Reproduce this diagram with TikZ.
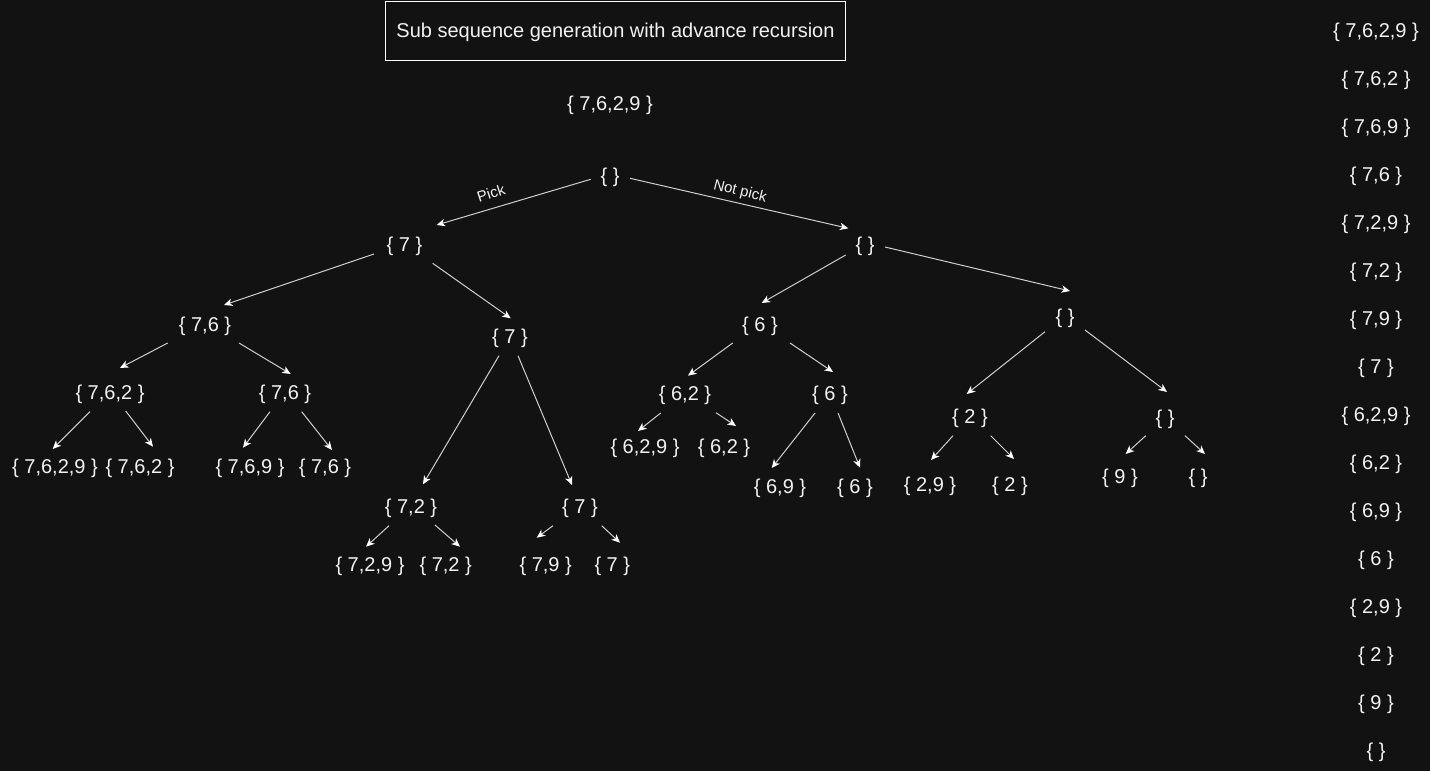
\documentclass[tikz,border=0pt]{standalone}
\usepackage{fontspec}
\setmainfont{Liberation Sans}
\usetikzlibrary{arrows.meta}
\definecolor{bg}{HTML}{121212}
\definecolor{ink}{HTML}{F2F2F2}
\definecolor{wire}{HTML}{CFCFCF}
\newcommand\linkarrow[4]{\draw[arr] ([shift={(#2)}]#1.center) -- ([shift={(#4)}]#3.center);}
\begin{document}
\begin{tikzpicture}[x=1pt,y=-1pt,
  lbl/.style={text=ink, font=\fontsize{20}{24}\selectfont, inner sep=0pt, text height=16pt, text depth=2.6pt},
  elbl/.style={text=ink, font=\fontsize{15}{18}\selectfont, inner sep=0pt},
  arr/.style={draw=wire, line width=1pt, -{Stealth[length=8.5pt,width=7.5pt,inset=2.5pt,color=white]}}]
\fill[bg] (0,0) rectangle (1430,771);
\useasboundingbox (0,0) rectangle (1430,771);

% title
\node[text=ink, font=\fontsize{20}{24}\selectfont, inner sep=0pt, text height=14.3pt, text depth=0pt, draw=white, line width=1pt, minimum width=460pt, minimum height=59pt] (title) at (615.5,30.5) {Sub sequence generation with advance recursion};
\node[lbl] (input) at (610,104) {\{ 7,6,2,9 \}};

% tree nodes
\node[lbl] (A) at (610,175.5) {\{ \}};
\node[lbl] (B) at (404.5,245) {\{ 7 \}};
\node[lbl] (C) at (865,245) {\{ \}};
\node[lbl] (D) at (205,325) {\{ 7,6 \}};
\node[lbl] (E) at (510,336.5) {\{ 7 \}};
\node[lbl] (F) at (760,325) {\{ 6 \}};
\node[lbl] (G) at (1065,317) {\{ \}};
\node[lbl] (H) at (110,393) {\{ 7,6,2 \}};
\node[lbl] (I) at (285,393) {\{ 7,6 \}};
\node[lbl] (J) at (411,507) {\{ 7,2 \}};
\node[lbl] (K) at (580,507) {\{ 7 \}};
\node[lbl] (L) at (685,394) {\{ 6,2 \}};
\node[lbl] (M) at (830,394) {\{ 6 \}};
\node[lbl] (N) at (970,417) {\{ 2 \}};
\node[lbl] (O) at (1165,418) {\{ \}};
% leaves
\node[lbl] (H1) at (55,466.7) {\{ 7,6,2,9 \}};
\node[lbl] (H2) at (140,466.7) {\{ 7,6,2 \}};
\node[lbl] (I1) at (250,466.7) {\{ 7,6,9 \}};
\node[lbl] (I2) at (325,466.7) {\{ 7,6 \}};
\node[lbl] (J1) at (370,565) {\{ 7,2,9 \}};
\node[lbl] (J2) at (445.7,565) {\{ 7,2 \}};
\node[lbl] (K1) at (545.7,565) {\{ 7,9 \}};
\node[lbl] (K2) at (612.3,565) {\{ 7 \}};
\node[lbl] (L1) at (645,446.7) {\{ 6,2,9 \}};
\node[lbl] (L2) at (724,446.7) {\{ 6,2 \}};
\node[lbl] (M1) at (780,486.7) {\{ 6,9 \}};
\node[lbl] (M2) at (855,486.7) {\{ 6 \}};
\node[lbl] (N1) at (930,485) {\{ 2,9 \}};
\node[lbl] (N2) at (1010,485) {\{ 2 \}};
\node[lbl] (O1) at (1120,476.7) {\{ 9 \}};
\node[lbl] (O2) at (1198,476.7) {\{ \}};

% edges
\linkarrow{A}{-19.3,3.8}{B}{32.2,-20}
\linkarrow{A}{20,2.8}{C}{-16.7,-16.7}
\linkarrow{B}{-30.5,9}{D}{19,-20}
\linkarrow{B}{28.2,18.3}{E}{0.7,-18.2}
\linkarrow{C}{-19.3,10}{F}{1.7,-22}
\linkarrow{C}{20,2}{G}{5,-26}
\linkarrow{D}{-37.3,18}{H}{10,-25}
\linkarrow{D}{34,18}{I}{5.7,-19}
\linkarrow{E}{-11,19.2}{J}{12,-22.7}
\linkarrow{E}{8,19.2}{K}{-8,-22}
\linkarrow{F}{-27.3,18}{L}{3,-18.3}
\linkarrow{F}{30,18}{M}{3,-22}
\linkarrow{G}{-20,14.7}{N}{-3.3,-23}
\linkarrow{G}{20,13}{O}{2,-26}
\linkarrow{H}{-20,18.7}{H1}{-2.3,-17.7}
\linkarrow{H}{15.7,18}{H2}{13,-20}
\linkarrow{I}{-15,18.7}{I1}{-7,-19}
\linkarrow{I}{16.7,18.7}{I2}{7,-16.7}
\linkarrow{J}{-22,18.7}{J1}{-4,-18.3}
\linkarrow{J}{24,18}{J2}{14.3,-18.3}
\linkarrow{K}{-27,18.7}{K1}{-9,-27.3}
\linkarrow{K}{21.7,18.7}{K2}{7.7,-22.3}
\linkarrow{L}{-24.3,19}{L1}{-7,-15.7}
\linkarrow{L}{31,18.7}{L2}{12,-20.7}
\linkarrow{M}{-15,19}{M1}{-8.3,-18.7}
\linkarrow{M}{8,19}{M2}{5,-19}
\linkarrow{N}{-17,18.7}{N1}{1,-25}
\linkarrow{N}{20.7,18.7}{N2}{4,-26}
\linkarrow{O}{-19.3,17.7}{O1}{5.7,-22.7}
\linkarrow{O}{20,17.7}{O2}{7,-22.7}

% edge labels
\node[elbl, rotate=18] (pick) at (491,193) {Pick};
\node[elbl, rotate=-14] (notpick) at (740,192) {Not pick};

% result list
\node[lbl] (r1) at (1376,30.5) {\{ 7,6,2,9 \}};
\node[lbl] (r2) at (1376,78.5) {\{ 7,6,2 \}};
\node[lbl] (r3) at (1376,126.5) {\{ 7,6,9 \}};
\node[lbl] (r4) at (1376,174.5) {\{ 7,6 \}};
\node[lbl] (r5) at (1376,222.5) {\{ 7,2,9 \}};
\node[lbl] (r6) at (1376,270.5) {\{ 7,2 \}};
\node[lbl] (r7) at (1376,318.5) {\{ 7,9 \}};
\node[lbl] (r8) at (1376,366.5) {\{ 7 \}};
\node[lbl] (r9) at (1376,414.5) {\{ 6,2,9 \}};
\node[lbl] (r10) at (1376,462.5) {\{ 6,2 \}};
\node[lbl] (r11) at (1376,510.5) {\{ 6,9 \}};
\node[lbl] (r12) at (1376,558.5) {\{ 6 \}};
\node[lbl] (r13) at (1376,606.5) {\{ 2,9 \}};
\node[lbl] (r14) at (1376,654.5) {\{ 2 \}};
\node[lbl] (r15) at (1376,702.5) {\{ 9 \}};
\node[lbl] (r16) at (1376,750.5) {\{ \}};
\end{tikzpicture}
\end{document}
